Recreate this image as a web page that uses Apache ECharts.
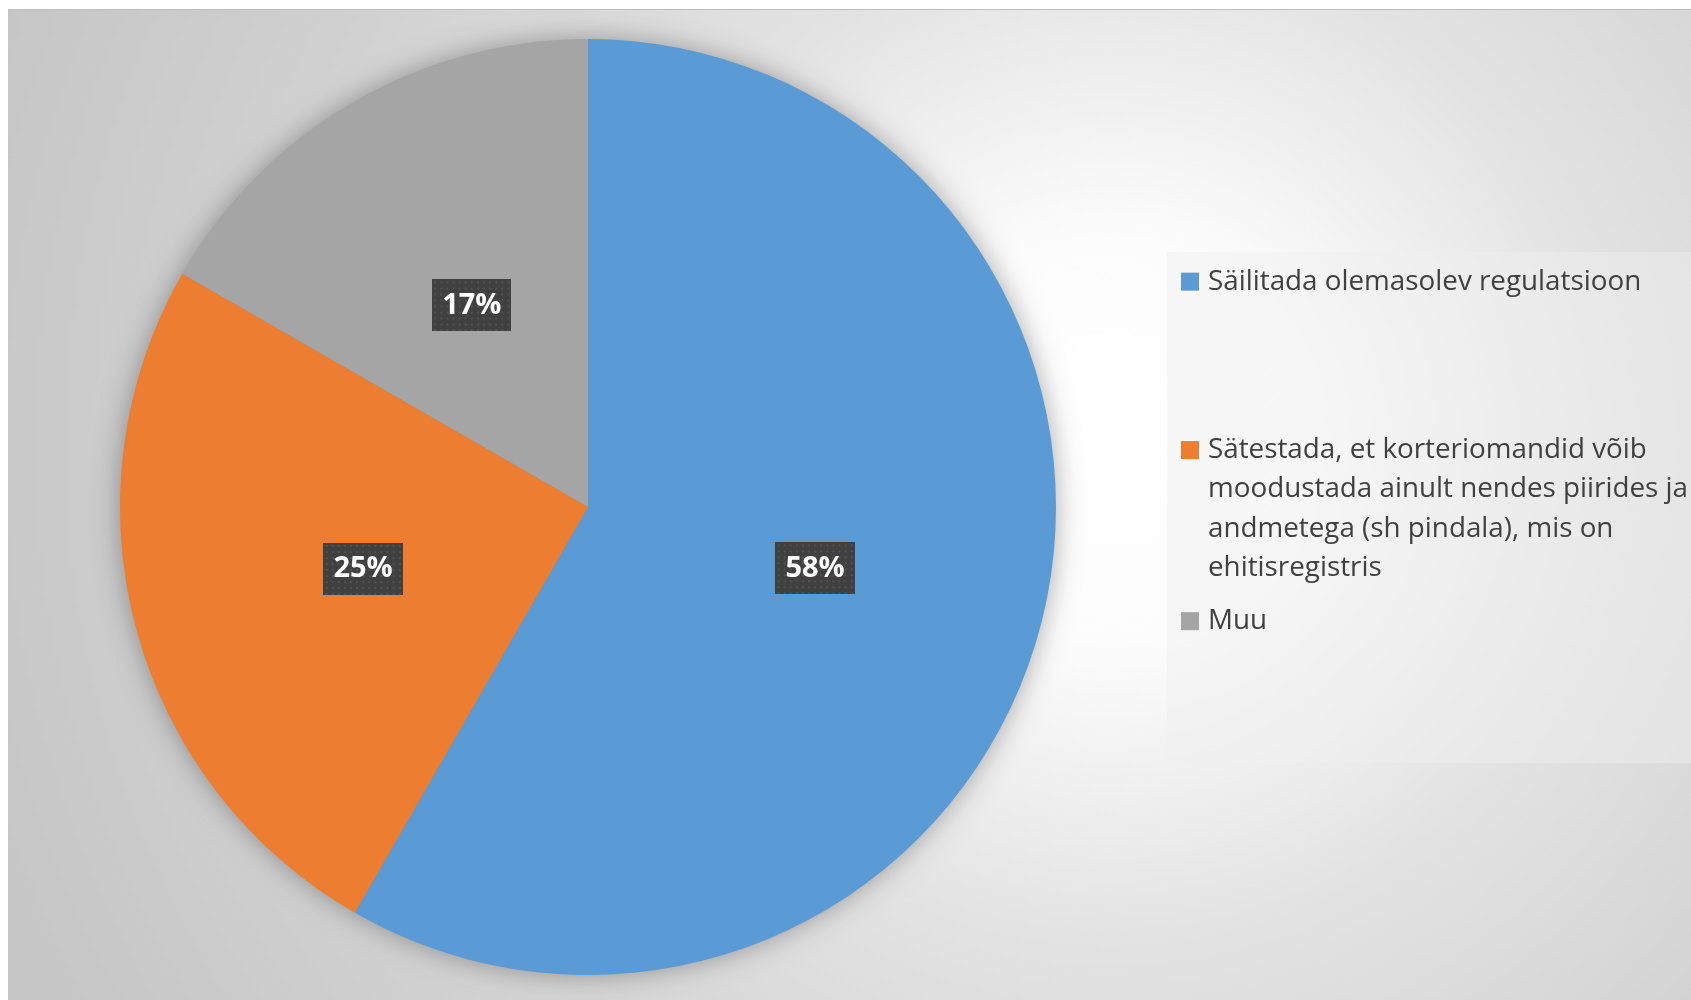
<!DOCTYPE html>
<html>
<head>
<meta charset="utf-8">
<script src="https://cdn.jsdelivr.net/npm/echarts@6/dist/echarts.min.js"></script>
<style>
html,body{margin:0;padding:0;background:#fff;}
#chart{width:1691px;height:1000px;}
</style>
</head>
<body>
<div id="chart"></div>
<script>
const categories = [
  'Säilitada olemasolev regulatsioon',
  'Sätestada, et korteriomandid võib moodustada ainult nendes piirides ja andmetega (sh pindala), mis on ehitisregistris',
  'Muu'
];
const values = [58.3, 25, 16.7];
const colors = ['#5B9BD5', '#ED7D31', '#A5A5A5'];
const legendLines = [
  ['Säilitada olemasolev regulatsioon'],
  ['Sätestada, et korteriomandid võib', 'moodustada ainult nendes piirides ja', 'andmetega (sh pindala), mis on', 'ehitisregistris'],
  ['Muu']
];

// dotted dark label background
const pat = document.createElement('canvas');
pat.width = 78; pat.height = 52;
(function(){
  const c = pat.getContext('2d');
  c.fillStyle = '#404040';
  c.fillRect(0,0,78,52);
  c.fillStyle = '#525252';
  for (let y = 2; y < 52; y += 6) {
    for (let x = 2; x < 78; x += 6) {
      c.fillRect(x, y, 2, 2);
    }
  }
})();

const chart = echarts.init(document.getElementById('chart'), null, {renderer: 'canvas'});

const FONT = 'Open Sans';
const LINE_H = 39.3;
const CX = 588, CY = 507, R = 468;
const legends = categories.map(function(name, i){
  const n = legendLines[i].length;
  const blank = n - 1;
  const tops = [262, 312.5, 601.5];
  return {
    data: [name],
    orient: 'vertical',
    left: 1181,
    top: tops[i],
    padding: 0,
    itemWidth: 18,
    itemHeight: 18,
    icon: 'rect',
    selectedMode: false,
    formatter: function(){
      let s = '';
      for (let k = 0; k < blank; k++) s += ' \n';
      return s + legendLines[i].join('\n');
    },
    textStyle: {
      fontFamily: FONT,
      fontSize: 27.8,
      color: '#404040',
      lineHeight: LINE_H,
      padding: [0, 0, 0, 4]
    }
  };
});

chart.setOption({
  animation: false,
  backgroundColor: '#ffffff',
  color: colors,
  graphic: [
    {
      type: 'rect', z: -10, silent: true,
      shape: {x: 8, y: 9, width: 1683, height: 991},
      style: {
        fill: {
          type: 'radial', x: 1110, y: 440, r: 1180, global: true,
          colorStops: [
            {offset: 0, color: '#ffffff'},
            {offset: 0.17, color: '#fcfcfc'},
            {offset: 0.42, color: '#e3e3e3'},
            {offset: 0.72, color: '#d1d1d1'},
            {offset: 1, color: '#c6c6c6'}
          ]
        }
      }
    },
    {
      type: 'line', z: -9, silent: true,
      shape: {x1: 8, y1: 9.5, x2: 1691, y2: 9.5},
      style: {stroke: '#bdbdbd', lineWidth: 1}
    },
    {
      type: 'rect', z: -8, silent: true,
      shape: {x: 1167, y: 252, width: 524, height: 511},
      style: {fill: 'rgba(240,240,240,0.45)'}
    }
  ],
  legend: legends,
  series: [
    {
      type: 'pie',
      silent: true,
      z: 1,
      center: [CX, CY],
      radius: R - 1,
      label: {show: false},
      labelLine: {show: false},
      itemStyle: {
        color: '#888',
        shadowColor: 'rgba(0,0,0,0.35)',
        shadowBlur: 28
      },
      data: [{value: 1, name: '_shadow'}]
    },
    {
      type: 'pie',
      z: 2,
      center: [CX, CY],
      radius: R,
      startAngle: 90,
      clockwise: true,
      percentPrecision: 0,
      avoidLabelOverlap: false,
      itemStyle: {borderWidth: 0},
      label: {
        show: true,
        position: 'inside',
        formatter: '{d}%',
        fontFamily: FONT,
        fontWeight: 'bold',
        fontSize: 29,
        lineHeight: 28,
        color: '#ffffff',
        backgroundColor: {image: pat},
        padding: [12, 10, 12, 10],
        shadowColor: 'rgba(0,0,0,0.55)',
        shadowBlur: 6,
        shadowOffsetX: 3,
        shadowOffsetY: 3
      },
      labelLayout: function(params){
        const r = params.labelRect;
        const lx = r.x + r.width / 2, ly = r.y + r.height / 2;
        const vx = lx - CX, vy = ly - CY;
        const len = Math.sqrt(vx * vx + vy * vy) || 1;
        const target = 234;
        const k = target / len - 1;
        return {dx: vx * k + 1, dy: vy * k + 1};
      },
      labelLine: {show: false},
      emphasis: {disabled: true},
      data: categories.map(function(name, i){
        return {name: name, value: values[i], itemStyle: {color: colors[i]}};
      })
    }
  ]
});
</script>
</body>
</html>
